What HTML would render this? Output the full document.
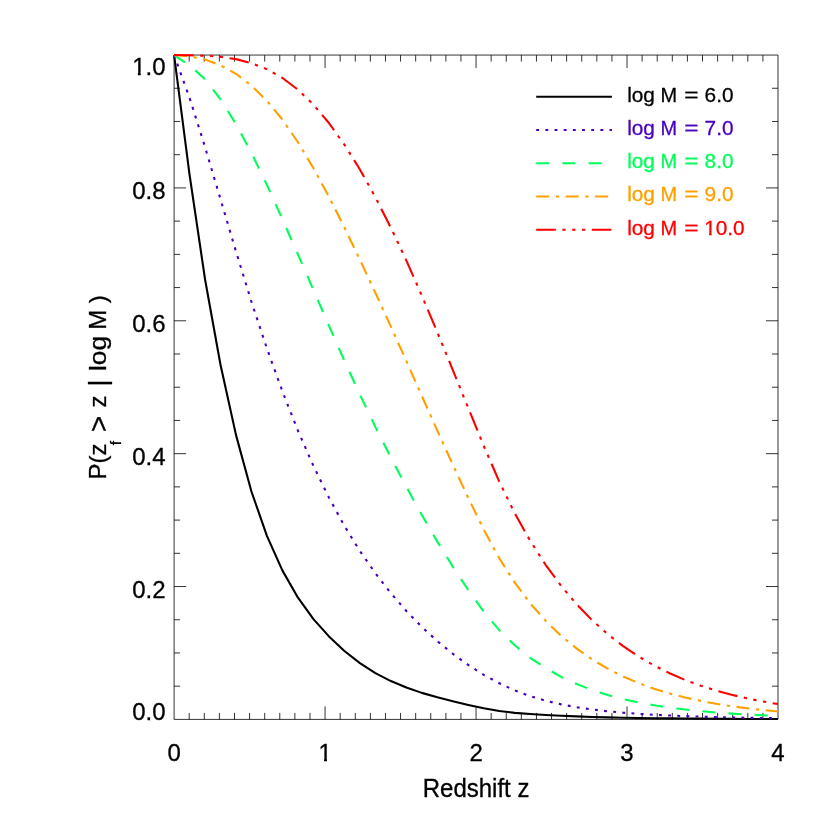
<!DOCTYPE html>
<html><head><meta charset="utf-8"><title>P(z_f &gt; z | log M)</title>
<style>html,body{margin:0;padding:0;background:#fff;}body{width:830px;height:830px;overflow:hidden;}svg{display:block;transform:translateZ(0);will-change:transform;}text{font-family:"Liberation Sans",sans-serif;}</style>
</head><body>
<svg width="830" height="830" viewBox="0 0 830 830">
<rect x="0" y="0" width="830" height="830" fill="#ffffff"/>
<g stroke="#000" stroke-width="0.8" fill="none" stroke-linecap="butt">
<path d="M174.1 55.05H778.0V719.4H174.1Z"/>
<path d="M189.20 719.4v-6.5M189.20 55.05v6.5M204.29 719.4v-6.5M204.29 55.05v6.5M219.39 719.4v-6.5M219.39 55.05v6.5M234.49 719.4v-6.5M234.49 55.05v6.5M249.59 719.4v-6.5M249.59 55.05v6.5M264.69 719.4v-6.5M264.69 55.05v6.5M279.78 719.4v-6.5M279.78 55.05v6.5M294.88 719.4v-6.5M294.88 55.05v6.5M309.98 719.4v-6.5M309.98 55.05v6.5M325.07 719.4v-13M325.07 55.05v13M340.17 719.4v-6.5M340.17 55.05v6.5M355.27 719.4v-6.5M355.27 55.05v6.5M370.37 719.4v-6.5M370.37 55.05v6.5M385.46 719.4v-6.5M385.46 55.05v6.5M400.56 719.4v-6.5M400.56 55.05v6.5M415.66 719.4v-6.5M415.66 55.05v6.5M430.76 719.4v-6.5M430.76 55.05v6.5M445.86 719.4v-6.5M445.86 55.05v6.5M460.95 719.4v-6.5M460.95 55.05v6.5M476.05 719.4v-13M476.05 55.05v13M491.15 719.4v-6.5M491.15 55.05v6.5M506.25 719.4v-6.5M506.25 55.05v6.5M521.34 719.4v-6.5M521.34 55.05v6.5M536.44 719.4v-6.5M536.44 55.05v6.5M551.54 719.4v-6.5M551.54 55.05v6.5M566.63 719.4v-6.5M566.63 55.05v6.5M581.73 719.4v-6.5M581.73 55.05v6.5M596.83 719.4v-6.5M596.83 55.05v6.5M611.93 719.4v-6.5M611.93 55.05v6.5M627.02 719.4v-13M627.02 55.05v13M642.12 719.4v-6.5M642.12 55.05v6.5M657.22 719.4v-6.5M657.22 55.05v6.5M672.32 719.4v-6.5M672.32 55.05v6.5M687.41 719.4v-6.5M687.41 55.05v6.5M702.51 719.4v-6.5M702.51 55.05v6.5M717.61 719.4v-6.5M717.61 55.05v6.5M732.71 719.4v-6.5M732.71 55.05v6.5M747.80 719.4v-6.5M747.80 55.05v6.5M762.90 719.4v-6.5M762.90 55.05v6.5M174.1 686.18h6M778.0 686.18h-6M174.1 652.96h6M778.0 652.96h-6M174.1 619.75h6M778.0 619.75h-6M174.1 586.53h12M778.0 586.53h-12M174.1 553.31h6M778.0 553.31h-6M174.1 520.10h6M778.0 520.10h-6M174.1 486.88h6M778.0 486.88h-6M174.1 453.66h12M778.0 453.66h-12M174.1 420.44h6M778.0 420.44h-6M174.1 387.22h6M778.0 387.22h-6M174.1 354.01h6M778.0 354.01h-6M174.1 320.79h12M778.0 320.79h-12M174.1 287.57h6M778.0 287.57h-6M174.1 254.36h6M778.0 254.36h-6M174.1 221.14h6M778.0 221.14h-6M174.1 187.92h12M778.0 187.92h-12M174.1 154.70h6M778.0 154.70h-6M174.1 121.48h6M778.0 121.48h-6M174.1 88.27h6M778.0 88.27h-6"/>
</g>
<clipPath id="c"><rect x="173.1" y="53.849999999999994" width="605.9" height="666.75"/></clipPath>
<g fill="none" stroke-width="2.1" stroke-linejoin="round" clip-path="url(#c)">
<polyline points="174.10,55.05 189.58,174.81 205.07,279.46 220.55,365.06 236.04,435.14 251.52,491.73 267.01,536.11 282.49,570.64 297.98,597.72 313.46,619.13 328.95,636.39 344.43,650.99 359.92,663.19 375.40,673.11 390.88,681.08 406.37,687.54 421.85,692.87 437.34,697.35 452.82,701.27 468.31,704.90 483.79,708.29 499.28,711.04 514.76,712.84 530.25,714.06 545.73,715.02 561.22,715.80 576.70,716.42 592.18,716.93 607.67,717.34 623.15,717.68 638.64,717.96 654.12,718.19 669.61,718.38 685.09,718.54 700.58,718.67 716.06,718.78 731.55,718.87 747.03,718.95 762.52,719.01 778.00,719.07" stroke="#000000"/>
<polyline points="174.10,55.05 189.58,97.90 205.07,147.15 220.55,199.38 236.04,251.72 251.52,302.00 267.01,348.77 282.49,391.67 297.98,430.71 313.46,465.98 328.95,497.65 344.43,525.92 359.92,551.01 375.40,573.30 390.88,593.20 406.37,611.00 421.85,626.93 437.34,641.15 452.82,653.81 468.31,665.00 483.79,674.81 499.28,683.29 514.76,690.38 530.25,696.15 545.73,700.76 561.22,704.39 576.70,707.25 592.18,709.51 607.67,711.29 623.15,712.71 638.64,713.85 654.12,714.77 669.61,715.52 685.09,716.13 700.58,716.64 716.06,717.07 731.55,717.43 747.03,717.73 762.52,717.99 778.00,718.21" stroke="#4800be" stroke-dasharray="2.90 6.27"/>
<polyline points="174.10,55.05 189.58,65.25 205.07,79.27 220.55,99.31 236.04,124.21 251.52,153.09 267.01,185.10 282.49,219.27 297.98,254.44 313.46,290.04 328.95,325.72 344.43,360.76 359.92,394.58 375.40,426.83 390.88,457.59 406.37,486.98 421.85,514.99 437.34,541.61 452.82,566.71 468.31,590.15 483.79,611.68 499.28,630.16 514.76,645.30 530.25,657.80 545.73,668.21 561.22,676.87 576.70,684.07 592.18,690.04 607.67,694.99 623.15,699.09 638.64,702.49 654.12,705.30 669.61,707.64 685.09,709.57 700.58,711.17 716.06,712.49 731.55,713.59 747.03,714.50 762.52,715.26 778.00,715.89" stroke="#00ff5a" stroke-dasharray="13.09 13.09"/>
<polyline points="174.10,55.05 189.58,56.31 205.07,59.58 220.55,65.31 236.04,73.90 251.52,85.67 267.01,100.90 282.49,119.75 297.98,142.28 313.46,168.19 328.95,196.83 344.43,227.56 359.92,259.71 375.40,292.79 390.88,326.68 406.37,361.15 421.85,395.93 437.34,430.61 452.82,464.74 468.31,497.95 483.79,529.72 499.28,558.23 514.76,582.66 530.25,603.34 545.73,620.90 561.22,635.87 576.70,648.62 592.18,659.46 607.67,668.67 623.15,676.49 638.64,683.12 654.12,688.73 669.61,693.48 685.09,697.50 700.58,700.90 716.06,703.78 731.55,706.20 747.03,708.25 762.52,709.98 778.00,711.44" stroke="#ffa000" stroke-dasharray="13.09 6.54 3.27 6.54"/>
<polyline points="174.10,55.05 189.58,55.29 205.07,55.71 220.55,56.83 236.04,59.14 251.52,63.13 267.01,69.28 282.49,78.02 297.98,89.72 313.46,104.69 328.95,123.02 344.43,144.67 359.92,169.49 375.40,197.26 390.88,227.70 406.37,260.60 421.85,295.62 437.34,332.30 452.82,370.04 468.31,408.19 483.79,446.00 499.28,481.66 514.76,513.28 530.25,540.91 545.73,565.02 561.22,586.04 576.70,604.35 592.18,620.29 607.67,634.14 623.15,646.15 638.64,656.54 654.12,665.52 669.61,673.26 685.09,679.92 700.58,685.64 716.06,690.55 731.55,694.76 747.03,698.37 762.52,701.45 778.00,704.08" stroke="#ff0000" stroke-dasharray="19.63 6.54 3.27 6.54 3.27 6.54 3.27 6.54"/>
</g>
<g fill="none" stroke-width="2">
<path d="M536.2 96.8H611.9" stroke="#000000"/>
<path d="M536.2 129.9H611.9" stroke="#4800be" stroke-dasharray="2.90 6.27"/>
<path d="M536.2 163.2H611.9" stroke="#00ff5a" stroke-dasharray="13.09 13.09"/>
<path d="M536.2 196.5H611.9" stroke="#ffa000" stroke-dasharray="13.09 6.54 3.27 6.54"/>
<path d="M536.2 229.8H611.9" stroke="#ff0000" stroke-dasharray="19.63 6.54 3.27 6.54 3.27 6.54 3.27 6.54"/>
</g>
<g font-size="20.8" stroke-width="0.3">
<g fill="#000000" stroke="#000000"><text x="627.2" y="101.7">log</text><text x="660.45" y="101.7" textLength="16.6" lengthAdjust="spacingAndGlyphs">M</text><text x="684.35" y="101.7" textLength="14.3" lengthAdjust="spacingAndGlyphs">=</text><text x="704.6" y="101.7">6.0</text></g>
<g fill="#4800be" stroke="#4800be"><text x="627.2" y="134.8">log</text><text x="660.45" y="134.8" textLength="16.6" lengthAdjust="spacingAndGlyphs">M</text><text x="684.35" y="134.8" textLength="14.3" lengthAdjust="spacingAndGlyphs">=</text><text x="704.6" y="134.8">7.0</text></g>
<g fill="#00ff5a" stroke="#00ff5a"><text x="627.2" y="168.1">log</text><text x="660.45" y="168.1" textLength="16.6" lengthAdjust="spacingAndGlyphs">M</text><text x="684.35" y="168.1" textLength="14.3" lengthAdjust="spacingAndGlyphs">=</text><text x="704.6" y="168.1">8.0</text></g>
<g fill="#ffa000" stroke="#ffa000"><text x="627.2" y="201.4">log</text><text x="660.45" y="201.4" textLength="16.6" lengthAdjust="spacingAndGlyphs">M</text><text x="684.35" y="201.4" textLength="14.3" lengthAdjust="spacingAndGlyphs">=</text><text x="704.6" y="201.4">9.0</text></g>
<g fill="#ff0000" stroke="#ff0000"><text x="627.2" y="234.7">log</text><text x="660.45" y="234.7" textLength="16.6" lengthAdjust="spacingAndGlyphs">M</text><text x="684.35" y="234.7" textLength="14.3" lengthAdjust="spacingAndGlyphs">=</text><text x="704.2" y="234.7">10.0</text></g>
</g>
<g font-size="24" fill="#000" stroke="#000" stroke-width="0.3">
<text transform="translate(174.10,761.00) scale(1,1.02)" text-anchor="middle">0</text>
<text transform="translate(325.07,761.00) scale(1,1.02)" text-anchor="middle">1</text>
<text transform="translate(476.05,761.00) scale(1,1.02)" text-anchor="middle">2</text>
<text transform="translate(627.02,761.00) scale(1,1.02)" text-anchor="middle">3</text>
<text transform="translate(778.00,761.00) scale(1,1.02)" text-anchor="middle">4</text>
<text transform="translate(165.55,719.90) scale(1,1.02)" text-anchor="end">0.0</text>
<text transform="translate(165.55,597.98) scale(1,1.02)" text-anchor="end">0.2</text>
<text transform="translate(165.55,465.11) scale(1,1.02)" text-anchor="end">0.4</text>
<text transform="translate(165.55,332.24) scale(1,1.02)" text-anchor="end">0.6</text>
<text transform="translate(165.55,199.37) scale(1,1.02)" text-anchor="end">0.8</text>
<text transform="translate(165.55,74.60) scale(1,1.02)" text-anchor="end">1.0</text>
<text transform="translate(476.10,796.60) scale(1,1.05)" text-anchor="middle">Redshift z</text>
<text transform="translate(106.05,479.6) rotate(-90)">P(z</text>
<text transform="translate(121,445.2) rotate(-90)" font-size="15.5">f</text>
<text transform="translate(108.0,432.1) rotate(-90)" font-size="27.6">&gt;</text>
<text transform="translate(106.05,407.55) rotate(-90)">z</text>
<text transform="translate(106.5,386.55) rotate(-90)" font-size="26.5">|</text>
<text transform="translate(106.05,371.1) rotate(-90)" textLength="35.2" lengthAdjust="spacingAndGlyphs">log</text>
<text transform="translate(106.05,329.8) rotate(-90)">M</text>
<text transform="translate(106.05,303.25) rotate(-90)">)</text>
</g>
<g fill="#ffffff">
<rect x="133.24" y="72.27" width="4.58" height="3.73"/><rect x="140.75" y="72.27" width="4.44" height="3.73"/>
<rect x="319.46" y="758.67" width="4.58" height="3.73"/><rect x="326.96" y="758.67" width="4.44" height="3.73"/>
<rect x="705.11" y="232.65" width="3.92" height="3.45"/><rect x="711.67" y="232.65" width="3.85" height="3.45"/>
</g>
</svg></body></html>
